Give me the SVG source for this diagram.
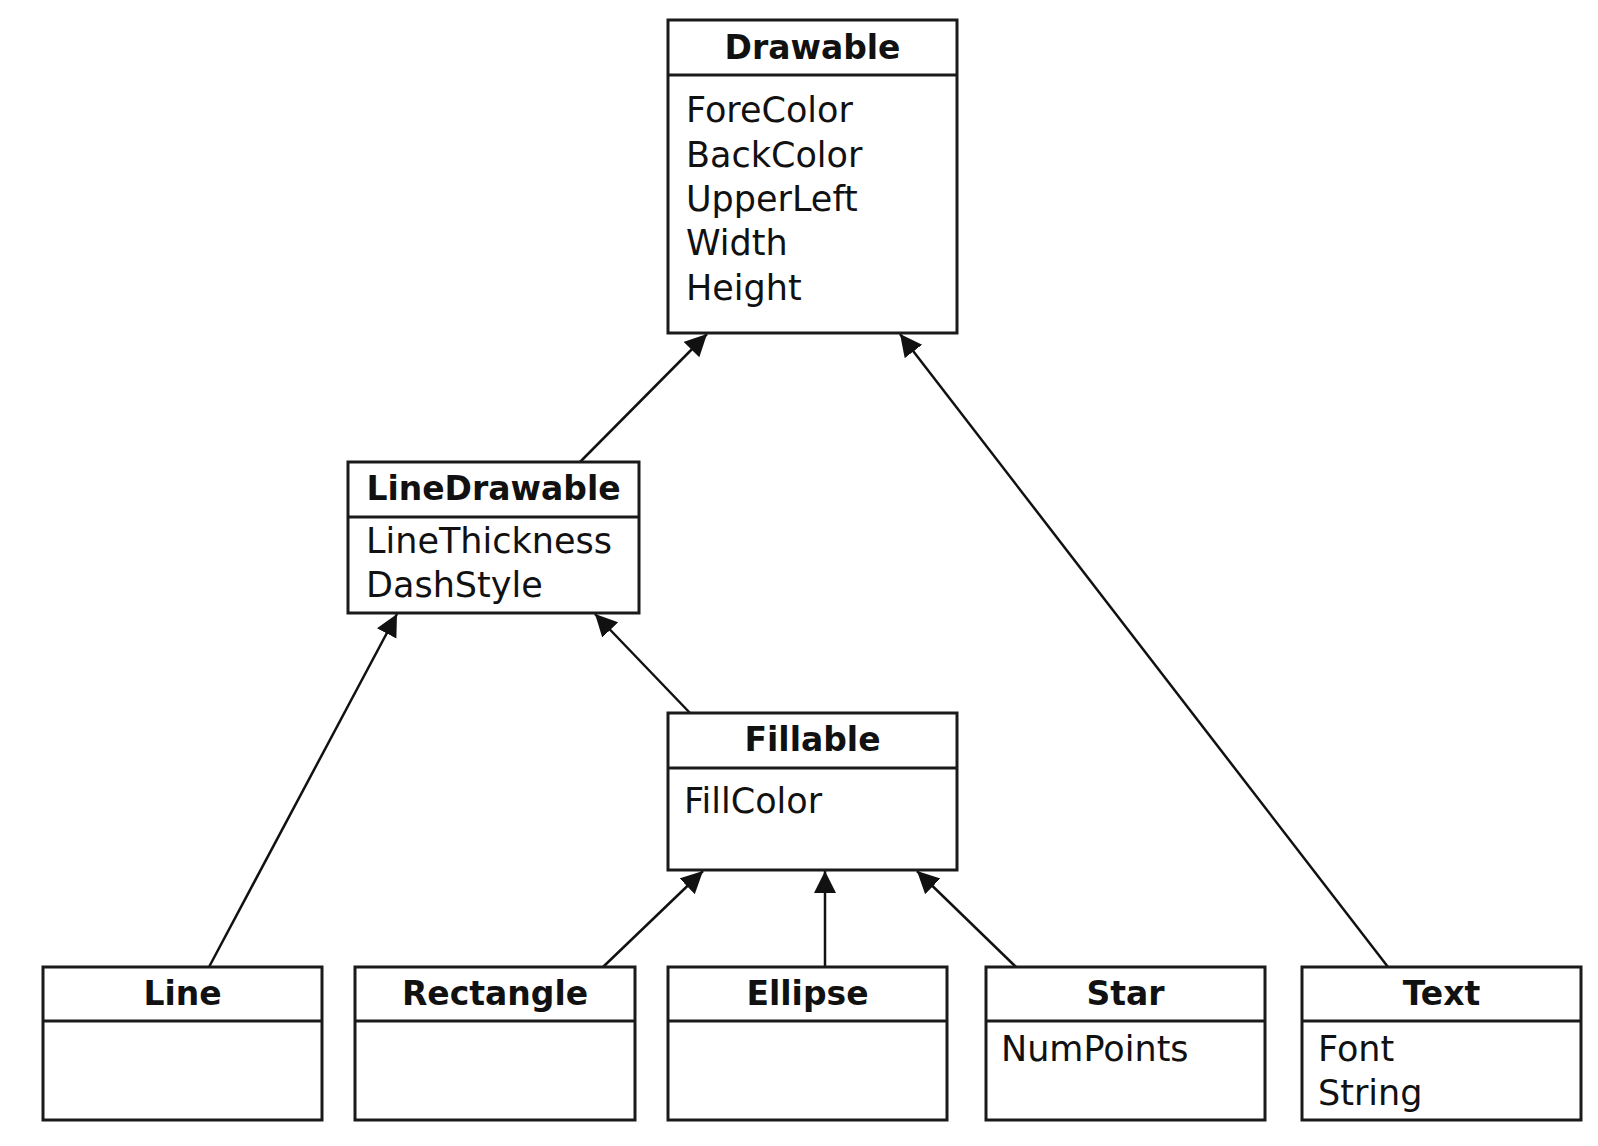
<svg xmlns="http://www.w3.org/2000/svg" width="1598" height="1146" viewBox="0 0 1598 1146">
<style>
.box{fill:#fff;stroke:#1a1a1a;stroke-width:3}
.div{stroke:#1a1a1a;stroke-width:3}
.title{font-family:"DejaVu Sans",sans-serif;font-weight:bold;font-size:33px;fill:#111;text-anchor:middle}
.attr{font-family:"DejaVu Sans",sans-serif;font-size:35px;fill:#111}
.conn{stroke:#111;stroke-width:2.5;fill:none;marker-end:url(#arrow)}
</style>
<defs>
<marker id="arrow" markerUnits="userSpaceOnUse" markerWidth="24" markerHeight="24" refX="22" refY="11" orient="auto">
<path d="M0,0 L22,11 L0,22 z" fill="#111"/>
</marker>
</defs>
<rect width="1598" height="1146" fill="#fff"/>
<g id="connectors">
<line class="conn" x1="580" y1="462" x2="707" y2="334"/>
<line class="conn" x1="1388" y1="967" x2="900" y2="334"/>
<line class="conn" x1="209" y1="967" x2="397" y2="614"/>
<line class="conn" x1="690" y1="713" x2="595" y2="614"/>
<line class="conn" x1="603" y1="967" x2="703" y2="871"/>
<line class="conn" x1="825" y1="967" x2="825" y2="871"/>
<line class="conn" x1="1016" y1="967" x2="917" y2="871"/>
</g>
<g id="Drawable">
<rect class="box" x="668" y="20" width="289" height="313"/>
<line class="div" x1="668" y1="75" x2="957" y2="75"/>
<text class="title" x="812.5" y="59">Drawable</text>
<text class="attr" x="686" y="122">ForeColor</text>
<text class="attr" x="686" y="166.5">BackColor</text>
<text class="attr" x="686" y="211">UpperLeft</text>
<text class="attr" x="686" y="255">Width</text>
<text class="attr" x="686" y="299.5">Height</text>
</g>
<g id="LineDrawable">
<rect class="box" x="348" y="462" width="291" height="151"/>
<line class="div" x1="348" y1="517" x2="639" y2="517"/>
<text class="title" x="493.5" y="500">LineDrawable</text>
<text class="attr" x="366" y="553">LineThickness</text>
<text class="attr" x="366" y="597">DashStyle</text>
</g>
<g id="Fillable">
<rect class="box" x="668" y="713" width="289" height="157"/>
<line class="div" x1="668" y1="768" x2="957" y2="768"/>
<text class="title" x="812.5" y="751">Fillable</text>
<text class="attr" x="684" y="813">FillColor</text>
</g>
<g id="Line">
<rect class="box" x="43" y="967" width="279" height="153"/>
<line class="div" x1="43" y1="1021" x2="322" y2="1021"/>
<text class="title" x="182.5" y="1005">Line</text>
</g>
<g id="Rectangle">
<rect class="box" x="355" y="967" width="280" height="153"/>
<line class="div" x1="355" y1="1021" x2="635" y2="1021"/>
<text class="title" x="495" y="1005">Rectangle</text>
</g>
<g id="Ellipse">
<rect class="box" x="668" y="967" width="279" height="153"/>
<line class="div" x1="668" y1="1021" x2="947" y2="1021"/>
<text class="title" x="807.5" y="1005">Ellipse</text>
</g>
<g id="Star">
<rect class="box" x="986" y="967" width="279" height="153"/>
<line class="div" x1="986" y1="1021" x2="1265" y2="1021"/>
<text class="title" x="1125.5" y="1005">Star</text>
<text class="attr" x="1001" y="1061">NumPoints</text>
</g>
<g id="Text">
<rect class="box" x="1302" y="967" width="279" height="153"/>
<line class="div" x1="1302" y1="1021" x2="1581" y2="1021"/>
<text class="title" x="1441.5" y="1005">Text</text>
<text class="attr" x="1318" y="1061">Font</text>
<text class="attr" x="1318" y="1105">String</text>
</g>
</svg>
